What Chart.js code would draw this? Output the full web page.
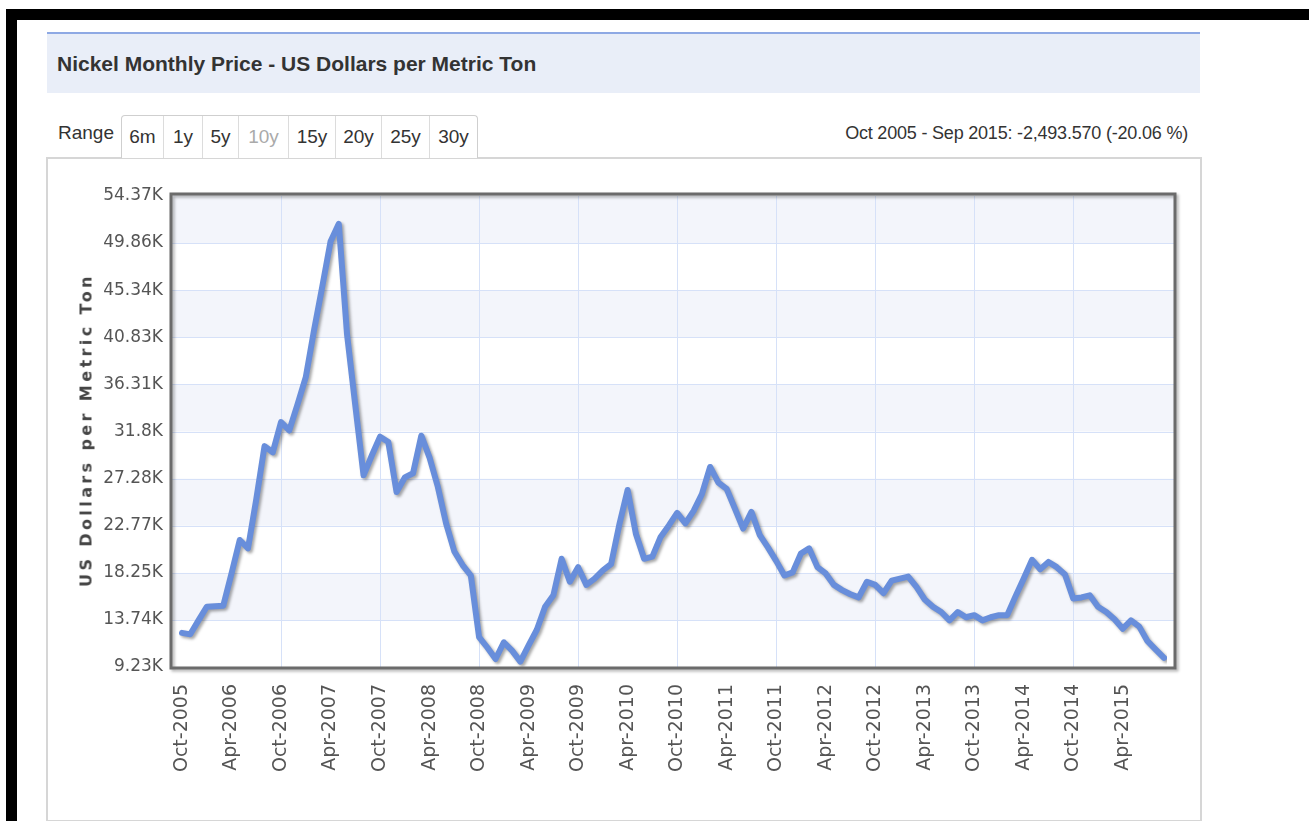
<!DOCTYPE HTML>
<html>

<head>
	<meta charset="UTF-8">
	<title>Nickel Monthly Price</title>
	<script src="https://cdn.jsdelivr.net/npm/chart.js"></script>
	<style>
		body {
			margin: 0;
			padding: 0;
			background: #fff;
			width: 1309px;
			height: 821px;
			overflow: hidden;
			position: relative;
			font-family: 'Liberation Sans', Arial, sans-serif;
			color: #333;
		}

		.frame-top {
			position: absolute;
			left: 6px;
			top: 9px;
			width: 1303px;
			height: 11px;
			background: #000;
		}

		.frame-left {
			position: absolute;
			left: 6px;
			top: 9px;
			width: 11px;
			height: 812px;
			background: #000;
		}

		.title-bar {
			position: absolute;
			left: 47px;
			top: 32px;
			width: 1153px;
			height: 59px;
			background: #e9eef8;
			border-top: 2px solid #8ea9e4;
		}

		.title-bar h1 {
			margin: 0;
			padding-left: 10px;
			line-height: 59px;
			font-size: 21px;
			font-weight: bold;
			color: #333;
		}

		.range-label {
			position: absolute;
			left: 58px;
			top: 122px;
			font-size: 19px;
		}

		.range-buttons {
			position: absolute;
			left: 121px;
			top: 115px;
			height: 42px;
			display: flex;
			border: 1px solid #cfcfcf;
			border-bottom: none;
			border-radius: 4px 4px 0 0;
			background: #fff;
			z-index: 2;
		}

		.range-buttons span {
			display: block;
			text-align: center;
			line-height: 42px;
			font-size: 19px;
			border-left: 1px solid #dcdcdc;
		}

		.range-buttons span:first-child {
			border-left: none;
		}

		.range-buttons span.off {
			color: #aaa;
		}

		.range-info {
			position: absolute;
			right: 121px;
			top: 123px;
			font-size: 18px;
			letter-spacing: -0.2px;
		}

		.chart-box {
			position: absolute;
			left: 46px;
			top: 157px;
			width: 1152px;
			height: 661px;
			border: 2px solid #d6d6d6;
		}

		.chart-container {
			position: absolute;
			left: 48px;
			top: 158px;
			width: 1151px;
			height: 663px;
		}

		.y-title {
			position: absolute;
			left: 86px;
			top: 430px;
			transform: translate(-50%, -50%) rotate(-90deg);
			white-space: nowrap;
			font-family: 'DejaVu Sans', sans-serif;
			font-weight: bold;
			font-size: 16px;
			letter-spacing: 3.4px;
			color: #444;
			z-index: 3;
		}
	</style>
</head>

<body>
	<div class="frame-top"></div>
	<div class="frame-left"></div>

	<div class="title-bar">
		<h1>Nickel Monthly Price - US Dollars per Metric Ton</h1>
	</div>

	<div class="range-label">Range</div>
	<div class="range-buttons">
		<span style="width: 41px;">6m</span>
		<span style="width: 38px;">1y</span>
		<span style="width: 35px;">5y</span>
		<span class="off" style="width: 49px;">10y</span>
		<span style="width: 46px;">15y</span>
		<span style="width: 45px;">20y</span>
		<span style="width: 47px;">25y</span>
		<span style="width: 47px;">30y</span>
	</div>
	<div class="range-info">Oct 2005 - Sep 2015: -2,493.570 (-20.06 %)</div>

	<div class="chart-box"></div>
	<div class="chart-container">
		<canvas id="nickelChart"></canvas>
	</div>
	<div class="y-title">US Dollars per Metric Ton</div>

	<script>
		// monthly price, thousands of US$ per metric ton, Oct 2005 .. Sep 2015
		var priceK = [
			12.5, 12.36, 13.7, 15.0, 15.05, 15.1, 18.2, 21.4, 20.6, 25.3, 30.4, 29.8,
			32.7, 31.9, 34.4, 37.0, 41.5, 45.7, 50.0, 51.7, 41.1, 34.3, 27.6, 29.5,
			31.3, 30.8, 26.0, 27.4, 27.8, 31.4, 29.3, 26.5, 23.0, 20.3, 19.0, 18.0,
			12.1, 11.1, 10.0, 11.6, 10.8, 9.75, 11.3, 12.8, 15.0, 16.1, 19.6, 17.4,
			18.8, 17.1, 17.7, 18.5, 19.1, 22.9, 26.2, 22.0, 19.6, 19.8, 21.7, 22.8,
			24.0, 23.0, 24.2, 25.8, 28.4, 26.9, 26.3, 24.4, 22.5, 24.1, 21.9, 20.7,
			19.4, 18.0, 18.3, 20.1, 20.6, 18.8, 18.2, 17.1, 16.6, 16.2, 15.9, 17.4,
			17.1, 16.3, 17.5, 17.7, 17.9, 16.9, 15.7, 15.0, 14.5, 13.7, 14.5, 14.0,
			14.2, 13.7, 14.0, 14.2, 14.2, 16.0, 17.7, 19.5, 18.6, 19.3, 18.8, 18.1,
			15.8, 15.9, 16.1, 15.0, 14.5, 13.8, 12.9, 13.7, 13.1, 11.7, 10.9, 10.1
		];

		var monthNames = ['Jan', 'Feb', 'Mar', 'Apr', 'May', 'Jun', 'Jul', 'Aug', 'Sep', 'Oct', 'Nov', 'Dec'];
		var startYear = 2005;
		var startMonth = 9; // Oct

		// y axis tick values (K)
		var yTicks = [9.23, 13.74, 18.25, 22.77, 27.28, 31.8, 36.31, 40.83, 45.34, 49.86, 54.37];

		var labels = [];
		for (var i = 0; i < priceK.length; i++) {
			var m = (startMonth + i) % 12;
			var y = startYear + Math.floor((startMonth + i) / 12);
			labels.push(monthNames[m] + '-' + y);
		}

		var gridColor = '#d6e1f8';
		var bandColor = '#f3f5fb';

		// bands, horizontal grid, frame and line shadow
		var plotFrame = {
			id: 'plotFrame',
			beforeDatasetsDraw: function (chart) {
				var ctx = chart.ctx;
				ctx.save();
				ctx.shadowColor = 'rgba(0, 0, 0, 0.35)';
				ctx.shadowOffsetX = 2;
				ctx.shadowOffsetY = 2;
				ctx.shadowBlur = 3;
			},
			afterDatasetsDraw: function (chart) {
				var ctx = chart.ctx;
				ctx.restore();
				var a = chart.chartArea;
				var left = a.left - 11, right = a.right + 11;
				var top = a.top - 2, bottom = a.bottom + 1;
				ctx.save();
				ctx.shadowColor = 'rgba(0, 0, 0, 0.3)';
				ctx.shadowOffsetX = 2;
				ctx.shadowOffsetY = 2;
				ctx.shadowBlur = 3;
				ctx.strokeStyle = '#6b6b6b';
				ctx.lineWidth = 3;
				ctx.strokeRect(left, top, right - left, bottom - top);
				ctx.restore();
			},
			beforeDraw: function (chart) {
				var ctx = chart.ctx;
				var a = chart.chartArea;
				var ys = chart.scales.y;
				var left = a.left - 11, right = a.right + 11;
				ctx.save();
				for (var k = 0; k < yTicks.length - 1; k++) {
					if (k % 2 === 1) {
						var y1 = ys.getPixelForValue(yTicks[k + 1]);
						var y0 = ys.getPixelForValue(yTicks[k]);
						if (k === yTicks.length - 2) y1 = a.top - 2;
						ctx.fillStyle = bandColor;
						ctx.fillRect(left, y1, right - left, y0 - y1);
					}
				}
				ctx.strokeStyle = gridColor;
				ctx.lineWidth = 1;
				for (var j = 1; j < yTicks.length - 1; j++) {
					var py = Math.round(ys.getPixelForValue(yTicks[j])) + 0.5;
					ctx.beginPath();
					ctx.moveTo(left, py);
					ctx.lineTo(right, py);
					ctx.stroke();
				}
				ctx.restore();
			}
		};

		var ctx = document.getElementById('nickelChart').getContext('2d');
		var myChart = new Chart(ctx, {
			type: 'line',
			data: {
				labels: labels,
				datasets: [{
					label: 'Nickel',
					data: priceK,
					borderColor: 'rgb(104, 142, 219)',
					borderWidth: 6,
					pointRadius: 0,
					tension: 0,
					borderJoinStyle: 'round',
					borderCapStyle: 'round',
					fill: false
				}]
			},
			options: {
				responsive: true,
				maintainAspectRatio: false,
				animation: false,
				layout: {
					padding: { top: 38, right: 35, left: 0, bottom: 0 }
				},
				plugins: {
					legend: { display: false },
					tooltip: { enabled: false }
				},
				scales: {
					x: {
						grid: {
							drawTicks: false,
							color: function (c) {
								return (c.index > 0 && c.index % 12 === 0) ? gridColor : 'rgba(0,0,0,0)';
							}
						},
						border: { display: false },
						ticks: {
							autoSkip: false,
							minRotation: 90,
							maxRotation: 90,
							padding: 17,
							color: '#555',
							font: { family: 'DejaVu Sans', size: 19 },
							callback: function (v, i) {
								return i % 6 === 0 ? labels[i] : '';
							}
						},
						afterFit: function (s) {
							s.height = 154;
							s.paddingLeft = 0;
							s.paddingRight = 0;
						}
					},
					y: {
						min: 9.23,
						max: 54.37,
						grid: { display: false, drawTicks: false },
						border: { display: false },
						afterBuildTicks: function (s) {
							s.ticks = yTicks.map(function (v) { return { value: v }; });
						},
						ticks: {
							padding: 19,
							color: '#555',
							font: { family: 'DejaVu Sans', size: 17 },
							callback: function (v) { return v + 'K'; }
						},
						afterFit: function (s) { s.width = 134; }
					}
				}
			},
			plugins: [plotFrame]
		});
	</script>
</body>

</html>
